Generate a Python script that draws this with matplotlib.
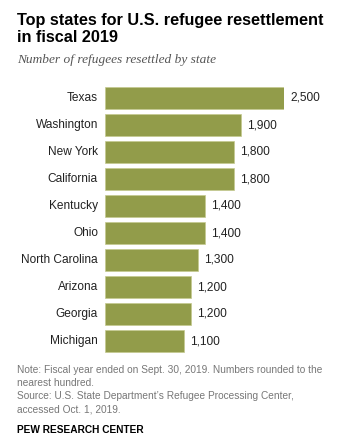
import matplotlib
matplotlib.use("Agg")
import matplotlib.pyplot as plt

states = ["Texas", "Washington", "New York", "California", "Kentucky",
          "Ohio", "North Carolina", "Arizona", "Georgia", "Michigan"]
refugees = [2500, 1900, 1800, 1800, 1400, 1400, 1300, 1200, 1200, 1100]

W, H = 356, 442
fig = plt.figure(figsize=(W / 100, H / 100), dpi=100)
fig.patch.set_facecolor("white")

# axes placed in pixel terms: bars start at x=105, Texas ends near x=284
left, right = 105, 284
top, bottom = 84.5, 354.5
ax = fig.add_axes([left / W, 1 - bottom / H, (right - left) / W, (bottom - top) / H])

pos = list(range(len(states)))
ax.barh(pos, refugees, height=0.82, color="#929c4a", edgecolor="#c4c98f", linewidth=0.5)
ax.set_xlim(0, 2500)
ax.set_ylim(len(states) - 0.5, -0.5)
ax.axis("off")

px = 2500 / 179  # data units per pixel
for i, (s, v) in enumerate(zip(states, refugees)):
    ax.text(-7 * px, i, s, ha="right", va="center", fontsize=8.6,
            family="Liberation Sans", color="#222222")
    ax.text(v + 6 * px, i, f"{v:,}", ha="left", va="center", fontsize=8.6,
            family="Liberation Sans", color="#222222", clip_on=False)

fig.text(17 / W, 1 - 25 / H, "Top states for U.S. refugee resettlement",
         ha="left", va="baseline", fontsize=11.7, fontweight="bold",
         family="Liberation Sans", color="black")
fig.text(17 / W, 1 - 42 / H, "in fiscal 2019",
         ha="left", va="baseline", fontsize=11.7, fontweight="bold",
         family="Liberation Sans", color="black")
fig.text(17 / W, 1 - 63 / H, "Number of refugees resettled by state", ha="left",
         va="baseline", fontsize=9.6, style="italic", family="Liberation Serif",
         color="#555555")

note = ("Note: Fiscal year ended on Sept. 30, 2019. Numbers rounded to the\n"
        "nearest hundred.\n"
        "Source: U.S. State Department\u2019s Refugee Processing Center,\n"
        "accessed Oct. 1, 2019.")
fig.text(17 / W, 1 - 365 / H, note, ha="left", va="top", fontsize=7.3,
         family="Liberation Sans", color="#777777", linespacing=1.38)
fig.text(17 / W, 1 - 433 / H, "PEW RESEARCH CENTER", ha="left", va="baseline",
         fontsize=7.3, fontweight="bold", family="Liberation Sans", color="black")

fig.savefig("out.png", dpi=100, facecolor="white")
